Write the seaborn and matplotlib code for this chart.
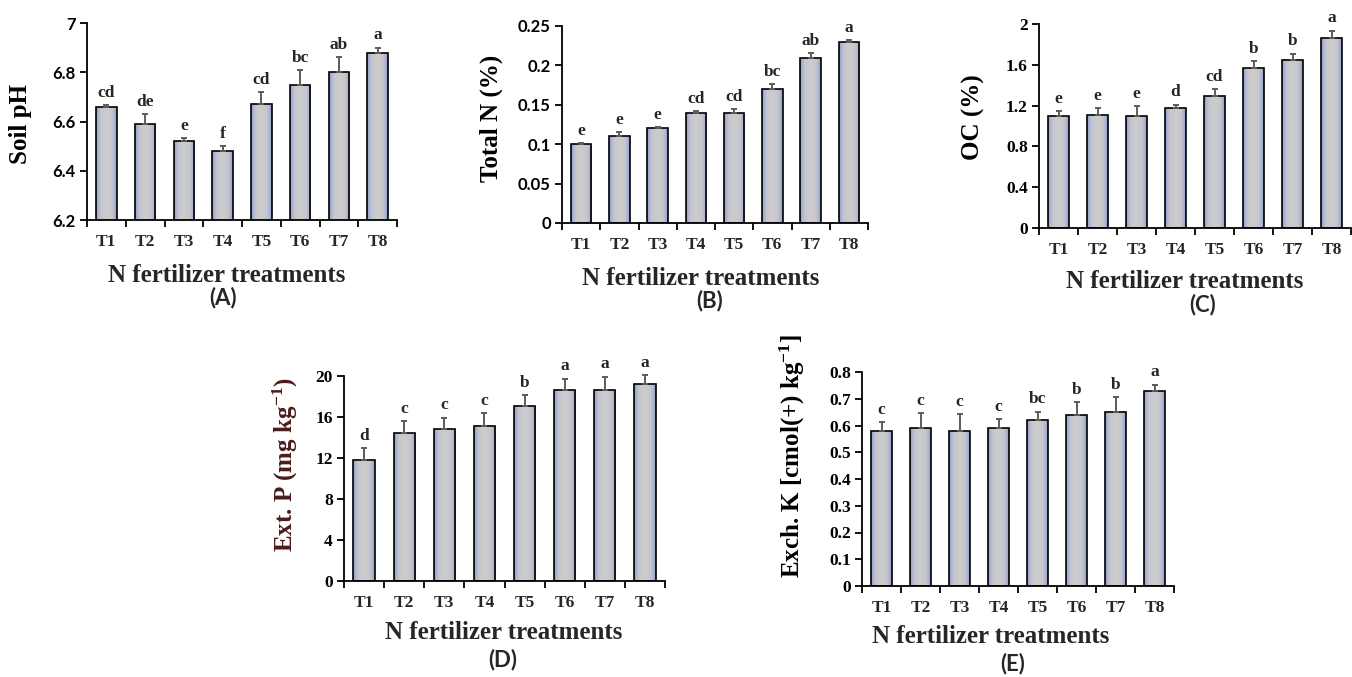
import numpy as np
import pandas as pd
import matplotlib
matplotlib.use("Agg")
import matplotlib.pyplot as plt
from matplotlib.colors import LinearSegmentedColormap
from matplotlib.ticker import FixedLocator
import seaborn as sns

# ---- data -------------------------------------------------------------
treatments = ["T1", "T2", "T3", "T4", "T5", "T6", "T7", "T8"]

soil_ph = [6.66, 6.59, 6.52, 6.48, 6.67, 6.75, 6.80, 6.88]
soil_ph_se = [0.008, 0.04, 0.012, 0.02, 0.05, 0.06, 0.062, 0.02]
soil_ph_letters = ["cd", "de", "e", "f", "cd", "bc", "ab", "a"]

total_n = [0.10, 0.11, 0.12, 0.14, 0.14, 0.17, 0.21, 0.23]
total_n_se = [0.001, 0.005, 0.0015, 0.0025, 0.005, 0.006, 0.006, 0.002]
total_n_letters = ["e", "e", "e", "cd", "cd", "bc", "ab", "a"]

oc = [1.10, 1.11, 1.10, 1.18, 1.29, 1.57, 1.65, 1.86]
oc_se = [0.05, 0.065, 0.095, 0.03, 0.075, 0.07, 0.06, 0.075]
oc_letters = ["e", "e", "e", "d", "cd", "b", "b", "a"]

ext_p = [11.85, 14.45, 14.8, 15.1, 17.05, 18.6, 18.6, 19.2]
ext_p_se = [1.1, 1.15, 1.15, 1.3, 1.1, 1.15, 1.35, 0.85]
ext_p_letters = ["d", "c", "c", "c", "b", "a", "a", "a"]

exch_k = [0.58, 0.59, 0.58, 0.59, 0.62, 0.64, 0.65, 0.73]
exch_k_se = [0.032, 0.055, 0.063, 0.034, 0.032, 0.048, 0.056, 0.023]
exch_k_letters = ["c", "c", "c", "c", "bc", "b", "b", "a"]

ph_ticks = [6.2, 6.4, 6.6, 6.8, 7.0]
ph_ticklabels = ["6.2", "6.4", "6.6", "6.8", "7"]
n_ticks = [0, 0.05, 0.10, 0.15, 0.20, 0.25]
n_ticklabels = ["0", "0.05", "0.1", "0.15", "0.2", "0.25"]
oc_ticks = [0, 0.4, 0.8, 1.2, 1.6, 2.0]
oc_ticklabels = ["0", "0.4", "0.8", "1.2", "1.6", "2"]
p_ticks = [0, 4, 8, 12, 16, 20]
p_ticklabels = ["0", "4", "8", "12", "16", "20"]
k_ticks = [0, 0.1, 0.2, 0.3, 0.4, 0.5, 0.6, 0.7, 0.8]
k_ticklabels = ["0", "0.1", "0.2", "0.3", "0.4", "0.5", "0.6", "0.7", "0.8"]

# ---- style ------------------------------------------------------------
sns.set_style("ticks")
SERIF = "Liberation Serif"
SANS = "Lato"
plt.rcParams["font.family"] = [SERIF, "DejaVu Serif"]
plt.rcParams["font.weight"] = "bold"
plt.rcParams["mathtext.fontset"] = "custom"
plt.rcParams["mathtext.rm"] = "Liberation Serif:bold"
plt.rcParams["mathtext.it"] = "Liberation Serif:bold"
plt.rcParams["mathtext.bf"] = "Liberation Serif:bold"

W, H = 1352, 677
fig = plt.figure(figsize=(W / 100, H / 100), dpi=100)

# grey bar fill with a bluish rim
bar_cmap = LinearSegmentedColormap.from_list(
    "barshade",
    [(0.00, (0.50, 0.57, 0.80)),
     (0.10, (0.68, 0.71, 0.82)),
     (0.24, (0.78, 0.78, 0.80)),
     (0.50, (0.80, 0.80, 0.80)),
     (0.76, (0.78, 0.78, 0.80)),
     (0.90, (0.68, 0.71, 0.82)),
     (1.00, (0.50, 0.57, 0.80))])
shade = np.linspace(0, 1, 64).reshape(1, -1)


def px(x, y):
    """figure-fraction coordinates from pixel position (origin top-left)"""
    return x / W, 1 - y / H


def panel(rect, values, errors, letters, ticks, ticklabels, ylabel,
          tick_font, tick_size, ylabel_pos, xlabel_pos, tag, tag_pos,
          ylabel_color="black"):
    ax = fig.add_axes(rect)
    df = pd.DataFrame({"treatment": treatments, "value": values})
    sns.barplot(data=df, x="treatment", y="value", ax=ax, errorbar=None,
                width=0.53, color="#cccccc", edgecolor="black",
                linewidth=1.2, zorder=2)
    ax.set_ylim(ticks[0], ticks[-1])
    ax.set_xlim(-0.5, len(treatments) - 0.5)

    # shaded fill inside every bar, clipped to the bar outline
    y_lo = ax.get_ylim()[0]
    for patch in ax.patches:
        patch.set_facecolor("none")
        x0 = patch.get_x()
        x1 = x0 + patch.get_width()
        top = patch.get_y() + patch.get_height()
        im = ax.imshow(shade, cmap=bar_cmap, aspect="auto",
                       extent=(x0, x1, max(patch.get_y(), y_lo), top),
                       zorder=1.5, interpolation="bilinear")
        im.set_clip_path(patch)
    ax.set_xlim(-0.5, len(treatments) - 0.5)
    ax.set_ylim(ticks[0], ticks[-1])

    # upper error bars
    xs = np.arange(len(treatments))
    eb = ax.errorbar(xs, values, yerr=[np.zeros(len(values)), errors],
                     fmt="none", ecolor="#5c5c5c", elinewidth=1.4,
                     capsize=2.4, capthick=1.4, zorder=3)
    for art in eb.lines[1] + eb.lines[2]:
        art.set_clip_on(False)

    # significance letters
    for xi, v, e, lab in zip(xs, values, errors, letters):
        ax.annotate(lab, (xi, v + e), xytext=(0, 3), textcoords="offset points",
                    ha="center", va="bottom", fontsize=12.5,
                    fontweight="bold", family=SERIF, zorder=4,
                    annotation_clip=False)

    sns.despine(ax=ax)
    for s in ("left", "bottom"):
        ax.spines[s].set_linewidth(1.3)
        ax.spines[s].set_color("black")

    ax.yaxis.set_major_locator(FixedLocator(ticks))
    ax.set_yticklabels(ticklabels, fontsize=tick_size, fontweight="bold",
                       family=tick_font)
    ax.tick_params(axis="y", direction="out", length=5, width=1.3,
                   pad=3, colors="black")

    ax.set_xticks(xs)
    ax.set_xticklabels(treatments, fontsize=12.5, fontweight="bold",
                       family=SERIF)
    ax.xaxis.set_minor_locator(FixedLocator(np.arange(-0.5, len(treatments), 1)))
    ax.tick_params(axis="x", which="major", length=0, pad=10)
    ax.tick_params(axis="x", which="minor", direction="out", length=5,
                   width=1.3, color="black")

    ax.set_ylabel(ylabel, fontsize=18, fontweight="bold", family=SERIF,
                  color=ylabel_color)
    ax.yaxis.set_label_coords(*px(*ylabel_pos), transform=fig.transFigure)

    ax.set_xlabel("N fertilizer treatments", fontsize=18, fontweight="bold",
                  family=SERIF)
    ax.xaxis.set_label_coords(*px(*xlabel_pos), transform=fig.transFigure)
    ax.xaxis.label.set_verticalalignment("baseline")

    fig.text(*px(*tag_pos), tag, ha="center", va="center", fontsize=16,
             fontweight="bold", family=SANS)
    ax.set_facecolor("white")
    return ax


def rect(left, right, top, bottom):
    return [left / W, 1 - bottom / H, (right - left) / W, (bottom - top) / H]


panel(rect(87, 397, 23, 220), soil_ph, soil_ph_se, soil_ph_letters,
      ph_ticks, ph_ticklabels, "Soil pH", SANS, 12,
      (32, 124), (227, 282), "(A)", (223, 298))

panel(rect(562, 868, 26, 223), total_n, total_n_se, total_n_letters,
      n_ticks, n_ticklabels, "Total N (%)", SANS, 12,
      (503, 118), (701, 285), "(B)", (710, 301))

panel(rect(1039, 1351, 24, 228), oc, oc_se, oc_letters,
      oc_ticks, oc_ticklabels, "OC (%)", SERIF, 12.5,
      (985, 117), (1185, 288), "(C)", (1203, 305))

panel(rect(344, 665, 376, 581), ext_p, ext_p_se, ext_p_letters,
      p_ticks, p_ticklabels, r"Ext. P (mg kg$^{-1}$)", SERIF, 12.5,
      (300, 465), (504, 639), "(D)", (503, 660), ylabel_color="#4a1c1c")

panel(rect(862, 1174, 372, 586), exch_k, exch_k_se, exch_k_letters,
      k_ticks, k_ticklabels, r"Exch. K [cmol(+) kg$^{-1}$]", SERIF, 12.5,
      (807, 456), (991, 643), "(E)", (1013, 664))

fig.savefig("out.png", dpi=100, facecolor="white")
